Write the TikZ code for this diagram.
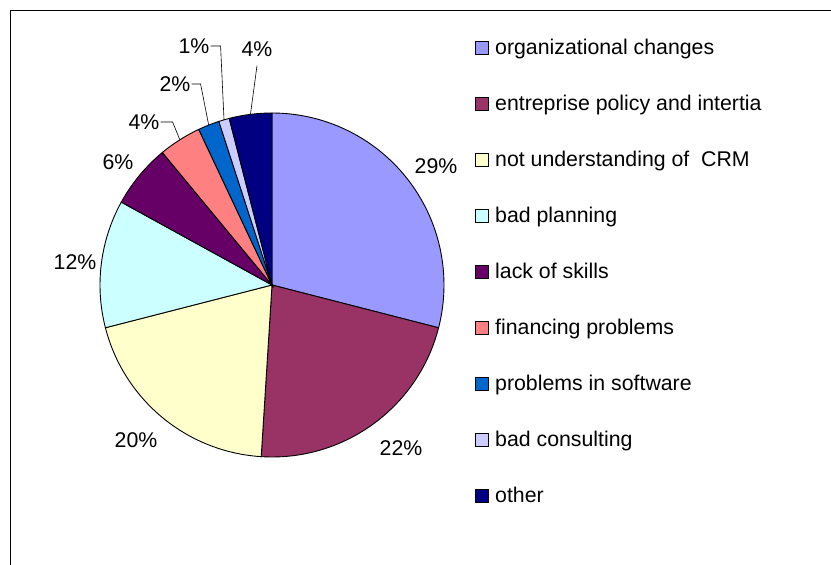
\documentclass[tikz,border=0pt]{standalone}
\usepackage{fontspec}
\setmainfont{Liberation Sans}
\definecolor{orgc}{HTML}{9999FF}
\definecolor{entc}{HTML}{993366}
\definecolor{crmc}{HTML}{FFFFCC}
\definecolor{planc}{HTML}{CCFFFF}
\definecolor{skillc}{HTML}{660066}
\definecolor{finc}{HTML}{FF8080}
\definecolor{softc}{HTML}{0066CC}
\definecolor{consc}{HTML}{CCCCFF}
\definecolor{othc}{HTML}{000080}
\tikzset{
	pct/.style={inner sep=1pt, font=\fontsize{21.3}{25}\selectfont},
	legtext/.style={anchor=base west, inner sep=0pt, font=\fontsize{21.3}{25}\selectfont},
	legbox/.style={draw, line width=0.8pt, minimum size=13pt, inner sep=0pt},
	leader/.style={line width=0.6pt}
}
\begin{document}
\begin{tikzpicture}[x=1pt, y=1pt]
	\useasboundingbox (0,0) rectangle (831,565);
	% frame
	\draw[line width=0.8pt] (10,0) -- (10,555) -- (831,555);
	% slices
	\coordinate (C) at (272,280);
	\foreach \a/\b/\c in {90/-14.4/orgc, -14.4/-93.6/entc, -93.6/-165.6/crmc, -165.6/-208.8/planc, -208.8/-230.4/skillc, -230.4/-244.8/finc, -244.8/-252/softc, -252/-255.6/consc, -255.6/-270/othc}{
		\filldraw[fill=\c, line width=0.9pt] (C) -- ([shift={(\a:172)}]C) arc[start angle=\a, end angle=\b, radius=172] -- cycle;
	}
	% labels
	\node[pct] (lorg) at (436,399){29\%};
	\node[pct] (lent) at (401,117){22\%};
	\node[pct] (lcrm) at (136,125){20\%};
	\node[pct] (lplan) at (75,303){12\%};
	\node[pct] (lskill) at (118,403){6\%};
	\node[pct] (lfin) at (144,443){4\%};
	\node[pct] (lsoft) at (175,481){2\%};
	\node[pct] (lcons) at (194,519){1\%};
	\node[pct] (loth) at (257,516){4\%};
	% leaders
	\coordinate (efin) at ([shift={(-237.6:172)}]C);
	\coordinate (esoft) at ([shift={(-248.4:172)}]C);
	\coordinate (econs) at ([shift={(-253.8:172)}]C);
	\coordinate (eoth) at ([shift={(-262.8:172)}]C);
	\draw[leader] (lfin.east) -- ++(12,0) -- (efin);
	\draw[leader] (lsoft.east) -- ++(9,0) -- (esoft);
	\draw[leader] (lcons.east) -- ++(10,0) -- (econs);
	\draw[leader] ([yshift=-8pt]loth.south) -- (eoth);
	% legend
	\foreach \c/\t [count=\i] in {orgc/organizational changes, entc/entreprise policy and intertia, crmc/not understanding of\ \ CRM, planc/bad planning, skillc/lack of skills, finc/financing problems, softc/problems in software, consc/bad consulting, othc/other}{
		\pgfmathsetmacro\yy{517-56*(\i-1)}
		\node[legbox, fill=\c] (b\i) at (481.5,\yy){};
		\node[legtext] (t\i) at (495,\yy-6.5){\t};
	}
\end{tikzpicture}
\end{document}
